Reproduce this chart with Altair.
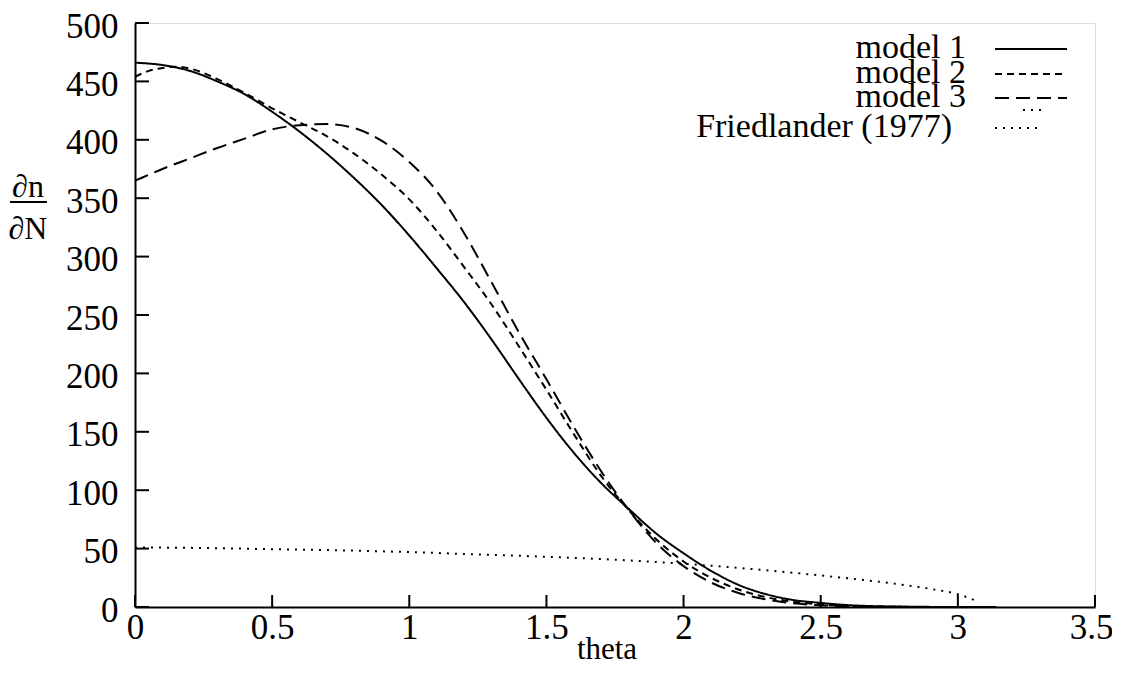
import altair as alt
import pandas as pd

# ---------------- data ----------------
series_names = ["model 1", "model 2", "model 3", "Friedlander (1977)"]

theta_m1 = [0, 0.1, 0.2, 0.3, 0.4, 0.5, 0.6, 0.7, 0.8, 0.9, 1.0, 1.1, 1.2, 1.3, 1.4, 1.5,
            1.6, 1.7, 1.8, 1.9, 2.0, 2.1, 2.2, 2.3, 2.4, 2.5, 2.6, 2.7, 2.8, 2.9, 3.0, 3.14]
val_m1 = [466, 464, 459, 450, 439, 424, 407, 388, 367, 344, 318, 290, 261, 229, 195, 162,
          132, 106, 84, 63, 46, 31, 19, 11, 6, 3.5, 1.6, 0.7, 0.3, 0.1, 0, 0]

theta_m2 = [0, 0.05, 0.1, 0.15, 0.2, 0.3, 0.4, 0.5, 0.6, 0.7, 0.8, 0.9, 1.0, 1.1, 1.2, 1.3,
            1.4, 1.5, 1.6, 1.7, 1.8, 1.9, 2.0, 2.1, 2.2, 2.3, 2.4, 2.5, 2.6, 2.7, 2.8, 2.9,
            3.0, 3.14]
val_m2 = [454, 459, 461.5, 462.5, 461, 452, 440, 427, 415, 403, 388, 370, 349, 322, 291, 259,
          223, 186, 148, 112, 83, 58, 39, 25, 15, 8.5, 4.5, 2.3, 1.0, 0.4, 0.15, 0.05,
          0, 0]

theta_m3 = [0, 0.05, 0.1, 0.2, 0.3, 0.4, 0.5, 0.6, 0.7, 0.8, 0.9, 1.0, 1.1, 1.2, 1.3, 1.4,
            1.5, 1.6, 1.7, 1.8, 1.9, 2.0, 2.1, 2.2, 2.3, 2.4, 2.5, 2.6, 2.7, 2.8, 2.9, 3.0,
            3.14]
val_m3 = [365, 370, 375, 384, 393, 401, 409, 412.5, 413.5, 410, 399, 381, 356, 320, 278, 235,
          195, 154, 116, 83, 55, 35, 21, 12, 6.5, 3.2, 1.5, 0.6, 0.2, 0.1, 0, 0,
          0]

theta_fr = [0, 0.25, 0.5, 0.75, 1.0, 1.25, 1.5, 1.75, 2.0, 2.25, 2.5, 2.75, 2.9, 3.0, 3.07]
val_fr = [51, 50.5, 49.5, 48.5, 47, 45, 43, 40.5, 37, 32.5, 27, 20.5, 15.5, 11, 5]

x_ticks = [0, 0.5, 1, 1.5, 2, 2.5, 3, 3.5]
y_ticks = [0, 50, 100, 150, 200, 250, 300, 350, 400, 450, 500]
x_title = "theta"

# ---------------- table ----------------
rows = []
for name, th, vals in zip(series_names,
                          [theta_m1, theta_m2, theta_m3, theta_fr],
                          [val_m1, val_m2, val_m3, val_fr]):
    for t, v in zip(th, vals):
        rows.append({"theta": t, "value": v, "series": name})
df = pd.DataFrame(rows)

# ---------------- style ----------------
W, H = 960, 584
FONT = "Liberation Serif"
TICK_FS = 35
dashes = [[1, 0], [7, 5], [14, 7], [2, 6]]

xs = alt.Scale(domain=[0, 3.5], nice=False, zero=False)
ys = alt.Scale(domain=[0, 500], nice=False)

xaxis = alt.Axis(values=x_ticks, format="~g", title=None, ticks=False, tickSize=0,
                 grid=False, labelFlush=False, labelOverlap=False, labelPadding=3,
                 labelOffset={"condition": {"test": "datum.value >= 3.4", "value": -4},
                              "value": 0},
                 domainColor="black", domainWidth=2, labelFont=FONT, labelFontSize=TICK_FS,
                 labelColor="black")
yaxis = alt.Axis(values=y_ticks, title=None, ticks=False, tickSize=0, grid=False,
                 labelFlush=False, labelOverlap=False, labelPadding=17, labelOffset=3,
                 domainColor="black", domainWidth=2, labelFont=FONT, labelFontSize=TICK_FS,
                 labelColor="black")

X = alt.X("theta:Q", scale=xs, axis=xaxis)
Y = alt.Y("value:Q", scale=ys, axis=yaxis)

lines = alt.Chart(df).mark_line(color="black", strokeWidth=2, interpolate="monotone").encode(
    x=X, y=Y,
    strokeDash=alt.StrokeDash("series:N", scale=alt.Scale(domain=series_names, range=dashes),
                              legend=None),
    detail="series:N",
)

ytick_marks = alt.Chart(pd.DataFrame({"value": y_ticks})).mark_rule(
    color="black", strokeWidth=2).encode(y=Y, x=alt.value(0), x2=alt.value(14))
xtick_marks = alt.Chart(pd.DataFrame({"theta": x_ticks})).mark_rule(
    color="black", strokeWidth=2).encode(x=X, y=alt.value(H), y2=alt.value(H - 12))

# x-axis title
xlab = alt.Chart(pd.DataFrame({"t": [x_title]})).mark_text(
    font=FONT, fontSize=31, color="black", align="center", baseline="middle").encode(
    text="t:N", x=alt.value(472), y=alt.value(627))

# y-axis label as a fraction  dn / dN
ylab_top = alt.Chart(pd.DataFrame({"t": ["∂n"]})).mark_text(
    font=FONT, fontSize=32, color="black", align="center", baseline="middle").encode(
    text="t:N", x=alt.value(-107), y=alt.value(164))
ylab_bar = alt.Chart(pd.DataFrame({"t": ["bar"]})).mark_rule(color="black", strokeWidth=2).encode(
    x=alt.value(-125), x2=alt.value(-88), y=alt.value(179))
ylab_bot = alt.Chart(pd.DataFrame({"t": ["∂N"]})).mark_text(
    font=FONT, fontSize=32, color="black", align="center", baseline="middle").encode(
    text="t:N", x=alt.value(-107), y=alt.value(206))

# legend
leg_text_x = [831, 831, 831, 817]
leg_y = [25, 50, 74, 104]
leg_line_x = [(860, 932), (860, 932), (860, 932), (860, 907)]
legend_layers = []
for i, name in enumerate(series_names):
    legend_layers.append(
        alt.Chart(pd.DataFrame({"series": [name]})).mark_text(
            font=FONT, fontSize=34, color="black", align="right", baseline="middle").encode(
            text="series:N", x=alt.value(leg_text_x[i]), y=alt.value(leg_y[i])))
    legend_layers.append(
        alt.Chart(pd.DataFrame({"series": [name]})).mark_rule(
            color="black", strokeWidth=2, strokeDash=dashes[i]).encode(
            x=alt.value(leg_line_x[i][0]), x2=alt.value(leg_line_x[i][1]),
            y=alt.value(leg_y[i] + 1)))
legend_layers.append(
    alt.Chart(pd.DataFrame({"series": [series_names[3]]})).mark_rule(
        color="black", strokeWidth=2, strokeDash=dashes[3]).encode(
        x=alt.value(888), x2=alt.value(908), y=alt.value(87)))

chart = alt.layer(
    lines, ytick_marks, xtick_marks, xlab, ylab_top, ylab_bar, ylab_bot, *legend_layers
).properties(
    width=W, height=H, autosize="none",
    padding={"left": 127, "top": 15, "right": 17, "bottom": 61},
).configure_view(stroke=None).configure(background="white")

chart.save("out.html", embed_options={"renderer": "svg", "actions": False})
